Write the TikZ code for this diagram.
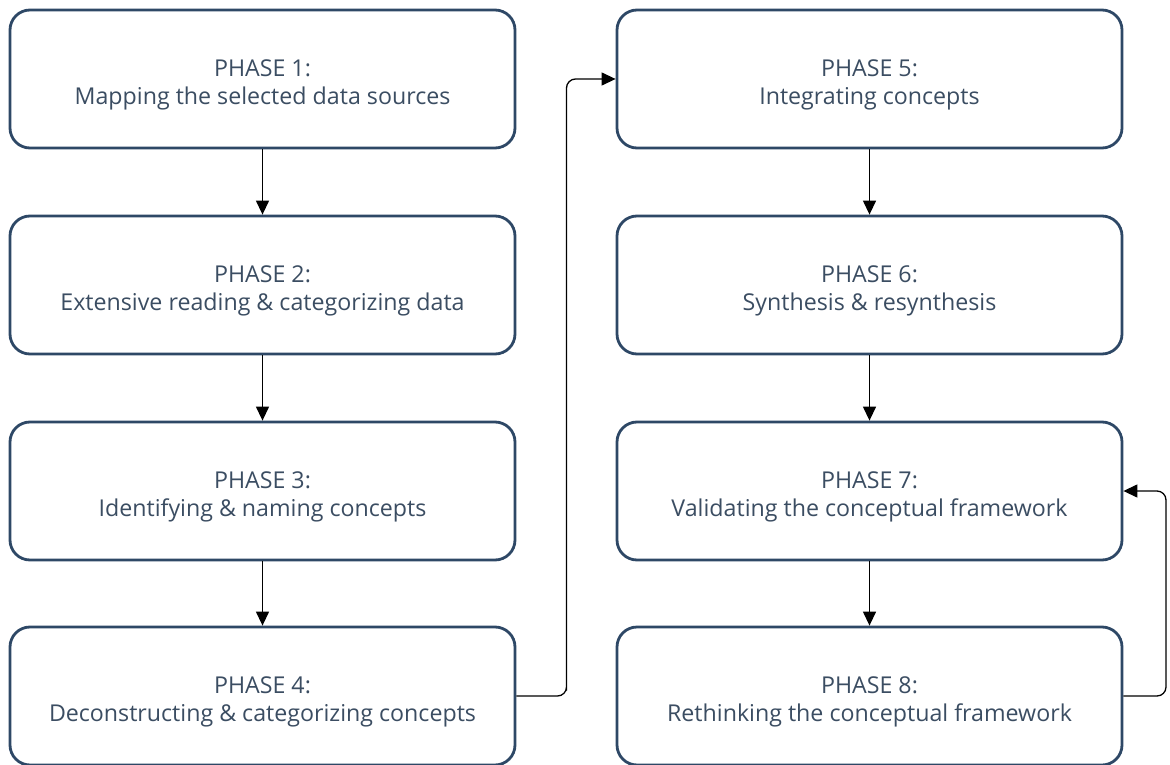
\documentclass[tikz,border=0pt]{standalone}
\usepackage{fontspec}
\setmainfont{Open Sans}
\usetikzlibrary{arrows.meta}
\definecolor{boxline}{HTML}{2E4866}
\definecolor{boxtext}{HTML}{3B4D62}
% two centred lines, set slightly below the middle of the box
\newcommand{\phasetext}[2]{\raisebox{-12pt}[0pt][0pt]{\begin{tabular}{@{}c@{}}#1\\#2\end{tabular}}}
\begin{document}
\begin{tikzpicture}[x=1pt,y=-1pt,
  phase/.style={draw=boxline, line width=2.8pt, rounded corners=20pt, fill=white,
    minimum width=505pt, minimum height=138pt, text=boxtext,
    font=\fontsize{23.2}{28}\selectfont},
  flow/.style={draw=black, line width=1.3pt, rounded corners=9pt,
    -{Triangle[length=14pt,width=13pt]}}]
\useasboundingbox (0,0) rectangle (1170,765);
\node[phase] (p1) at (262.5,79) {\phasetext{PHASE 1:}{Mapping the selected data sources}};
\node[phase] (p2) at (262.5,285) {\phasetext{PHASE 2:}{Extensive reading \& categorizing data}};
\node[phase] (p3) at (262.5,491) {\phasetext{PHASE 3:}{Identifying \& naming concepts}};
\node[phase] (p4) at (262.5,696) {\phasetext{PHASE 4:}{Deconstructing \& categorizing concepts}};
\node[phase] (p5) at (869.5,79) {\phasetext{PHASE 5:}{Integrating concepts}};
\node[phase] (p6) at (869.5,285) {\phasetext{PHASE 6:}{Synthesis \& resynthesis}};
\node[phase] (p7) at (869.5,491) {\phasetext{PHASE 7:}{Validating the conceptual framework}};
\node[phase] (p8) at (869.5,696) {\phasetext{PHASE 8:}{Rethinking the conceptual framework}};
\coordinate (j1) at (566.5,0);
\coordinate (j2) at (1166,0);
\draw[flow] (p1) -- (p2);
\draw[flow] (p2) -- (p3);
\draw[flow] (p3) -- (p4);
\draw[flow] (p4.east) -| (j1 |- p4.east) -- (j1 |- p5.west) -- (p5.west);
\draw[flow] (p5) -- (p6);
\draw[flow] (p6) -- (p7);
\draw[flow] (p7) -- (p8);
\draw[flow] (p8.east) -- (j2 |- p8.east) -- (j2 |- p7.east) -- (p7.east);
\end{tikzpicture}
\end{document}
